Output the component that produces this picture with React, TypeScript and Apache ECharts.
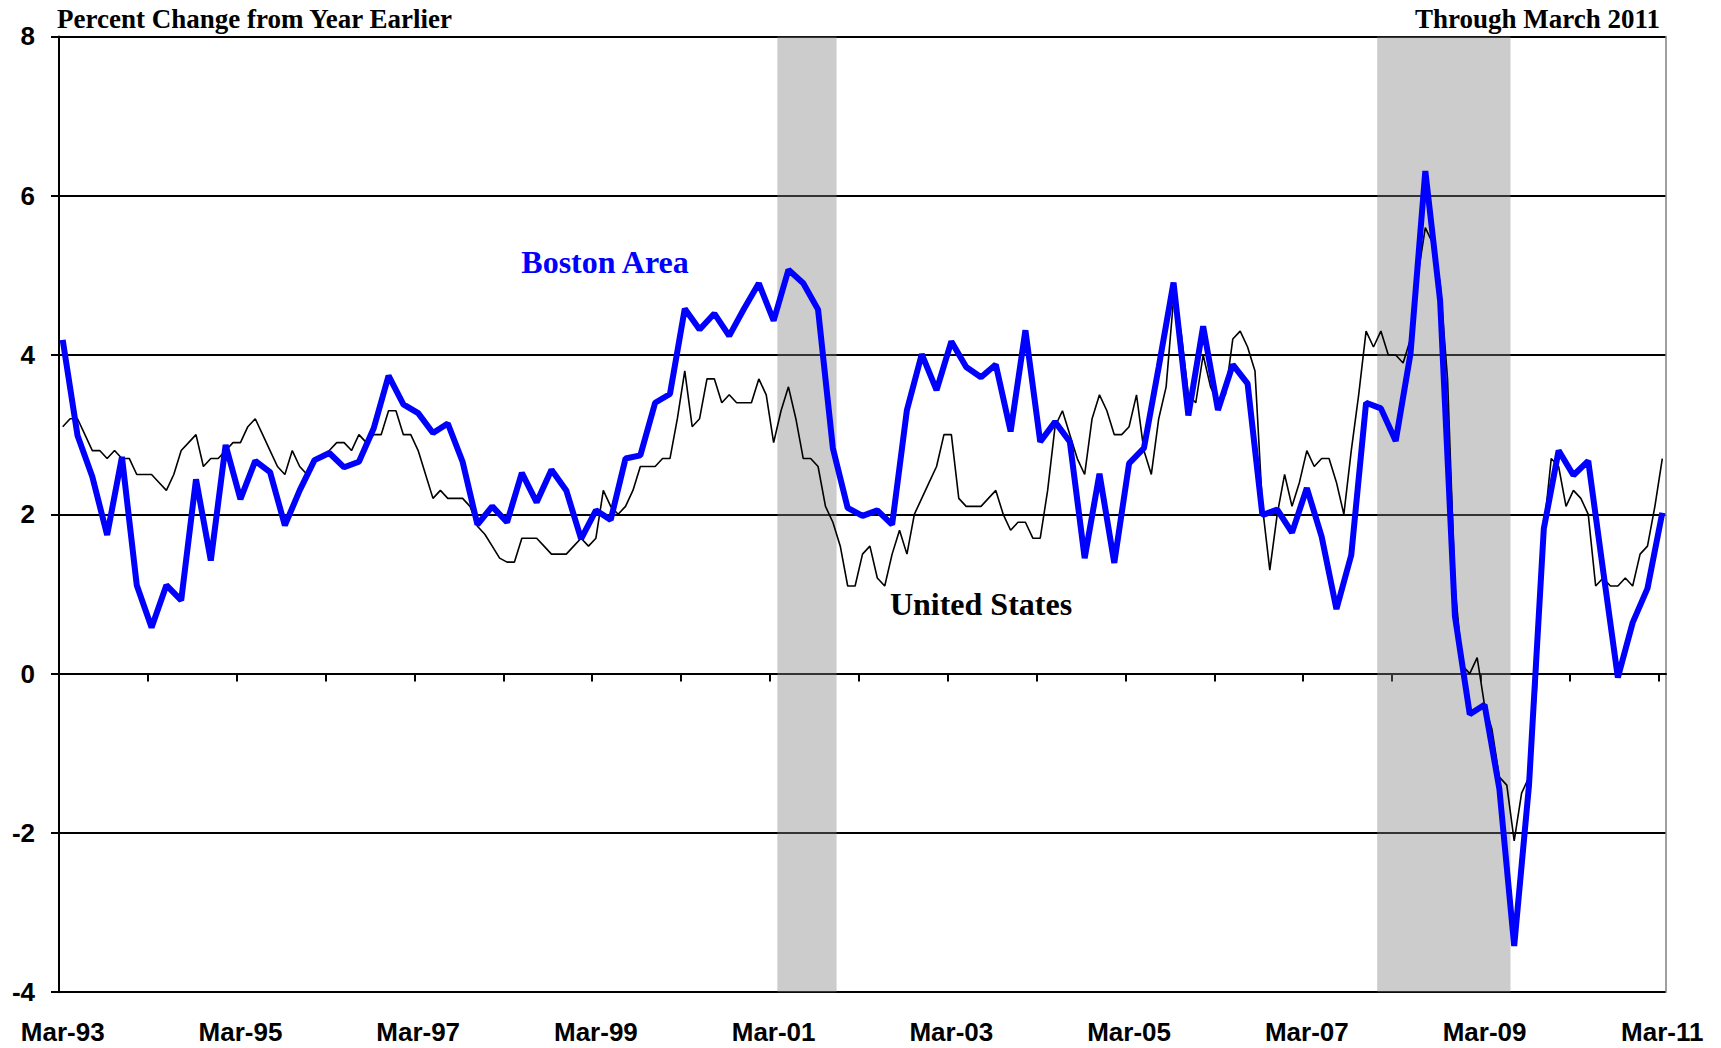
import React, { useEffect, useRef } from "react";
import * as echarts from "echarts";

// Month index 0 = Mar-93, 216 = Mar-11
const xLabels = ["Mar-93", "Mar-95", "Mar-97", "Mar-99", "Mar-01", "Mar-03", "Mar-05", "Mar-07", "Mar-09", "Mar-11"];
const xLabelMonths = [0, 24, 48, 72, 96, 120, 144, 168, 192, 216];
const xTickMonths = [11.5, 23.5, 35.5, 47.5, 59.5, 71.5, 83.5, 95.5, 107.5, 119.5, 131.5, 143.5, 155.5, 167.5, 179.5, 191.5, 203.5, 215.5];

// Recessions: first and last month (index) of shaded period
const recessionFirstMonth = [97, 178];
const recessionLastMonth = [104, 195];

// United States, monthly, Mar-93 .. Mar-11
const usValues = [
  3.1, 3.2, 3.2, 3.0, 2.8, 2.8, 2.7, 2.8, 2.7, 2.7,
  2.5, 2.5, 2.5, 2.4, 2.3, 2.5, 2.8, 2.9, 3.0, 2.6, 2.7, 2.7,
  2.8, 2.9, 2.9, 3.1, 3.2, 3.0, 2.8, 2.6, 2.5, 2.8, 2.6, 2.5,
  2.7, 2.7, 2.8, 2.9, 2.9, 2.8, 3.0, 2.9, 3.0, 3.0, 3.3, 3.3,
  3.0, 3.0, 2.8, 2.5, 2.2, 2.3, 2.2, 2.2, 2.2, 2.1, 1.85, 1.75,
  1.6, 1.45, 1.4, 1.4, 1.7, 1.7, 1.7, 1.6, 1.5, 1.5, 1.5, 1.6,
  1.7, 1.6, 1.7, 2.3, 2.1, 2.0, 2.1, 2.3, 2.6, 2.6, 2.6, 2.7,
  2.7, 3.2, 3.8, 3.1, 3.2, 3.7, 3.7, 3.4, 3.5, 3.4, 3.4, 3.4,
  3.7, 3.5, 2.9, 3.3, 3.6, 3.2, 2.7, 2.7, 2.6, 2.1, 1.9, 1.6,
  1.1, 1.1, 1.5, 1.6, 1.2, 1.1, 1.5, 1.8, 1.5, 2.0, 2.2, 2.4,
  2.6, 3.0, 3.0, 2.2, 2.1, 2.1, 2.1, 2.2, 2.3, 2.0, 1.8, 1.9,
  1.9, 1.7, 1.7, 2.3, 3.1, 3.3, 3.0, 2.7, 2.5, 3.2, 3.5, 3.3,
  3.0, 3.0, 3.1, 3.5, 2.8, 2.5, 3.2, 3.6, 4.7, 4.3, 3.5, 3.4,
  4.0, 3.6, 3.4, 3.5, 4.2, 4.3, 4.1, 3.8, 2.1, 1.3, 2.0, 2.5,
  2.1, 2.4, 2.8, 2.6, 2.7, 2.7, 2.4, 2.0, 2.8, 3.5, 4.3, 4.1,
  4.3, 4.0, 4.0, 3.9, 4.2, 5.0, 5.6, 5.4, 4.9, 3.7, 1.1, 0.1,
  0.0, 0.2, -0.4, -0.7, -1.3, -1.4, -2.1, -1.5, -1.3, -0.2, 1.8, 2.7,
  2.6, 2.1, 2.3, 2.2, 2.0, 1.1, 1.2, 1.1, 1.1, 1.2, 1.1, 1.5,
  1.6, 2.1, 2.7,
];

// Boston Area, bimonthly (Mar, May, Jul, ...), Mar-93 .. Mar-11
const bostonStepMonths = 2;
const bostonValues = [
  4.19, 2.99, 2.47, 1.74, 2.72, 1.11, 0.58, 1.11, 0.92, 2.44,
  1.42, 2.87, 2.19, 2.67, 2.53, 1.86, 2.30, 2.68, 2.77, 2.59,
  2.66, 3.08, 3.74, 3.38, 3.27, 3.02, 3.14, 2.66, 1.87, 2.10,
  1.90, 2.52, 2.15, 2.56, 2.30, 1.69, 2.05, 1.93, 2.70, 2.74,
  3.40, 3.51, 4.58, 4.32, 4.52, 4.24, 4.58, 4.90, 4.43, 5.07,
  4.90, 4.57, 2.83, 2.08, 1.98, 2.05, 1.87, 3.31, 4.01, 3.56,
  4.17, 3.85, 3.72, 3.88, 3.04, 4.31, 2.91, 3.16, 2.91, 1.45,
  2.51, 1.39, 2.64, 2.83, 3.85, 4.91, 3.24, 4.36, 3.31, 3.88,
  3.64, 1.99, 2.06, 1.77, 2.33, 1.72, 0.81, 1.49, 3.40, 3.33,
  2.92, 4.02, 6.31, 4.68, 0.72, -0.51, -0.39, -1.45, -3.42, -1.40,
  1.82, 2.80, 2.49, 2.67, 1.30, -0.05, 0.64, 1.07, 2.02,
];

const yMin = -4;
const yMax = 8;
const yStep = 2;

export default function App() {
  const ref = useRef<HTMLDivElement>(null);

  useEffect(() => {
    if (!ref.current) return;
    const chart = echarts.init(ref.current, undefined, { renderer: "svg" });

    const labelFont = { fontFamily: "Liberation Sans", fontWeight: "bold" as const, fontSize: 26, color: "#000" };
    const serifBold = { fontFamily: "Liberation Serif", fontWeight: "bold" as const, fontSize: 27, color: "#000" };

    const recessionData = recessionFirstMonth.map((s, i) => [s - 0.5, recessionLastMonth[i] + 0.5, yMax]);

    const option: any = {
      animation: false,
      backgroundColor: "#ffffff",
      title: [
        { text: "Percent Change from Year Earlier", left: 57, top: 5, padding: 0, textStyle: serifBold },
        { text: "Through March 2011", right: 61, top: 5, padding: 0, textStyle: serifBold },
      ],
      grid: {
        left: 59,
        right: 55,
        top: 36.4,
        bottom: 55.8,
        show: false,
      },
      xAxis: [
        {
          type: "value",
          min: -0.5,
          max: 216.5,
          position: "bottom",
          axisLine: { show: false, onZero: false },
          axisTick: { show: false },
          splitLine: { show: false },
          axisLabel: {
            ...labelFont,
            customValues: xLabelMonths,
            margin: 27,
            formatter: (v: number) => {
              const i = xLabelMonths.indexOf(Math.round(v));
              return i >= 0 ? xLabels[i] : "";
            },
          },
        },
        {
          type: "value",
          min: -0.5,
          max: 216.5,
          position: "bottom",
          axisLine: { show: true, onZero: true, lineStyle: { color: "#000", width: 2 } },
          axisTick: {
            show: true,
            customValues: xTickMonths,
            length: 8,
            inside: false,
            lineStyle: { color: "#000", width: 2 },
          },
          axisLabel: { show: false },
          splitLine: { show: false },
        },
      ],
      yAxis: [
        {
          type: "value",
          min: yMin,
          max: yMax,
          interval: yStep,
          position: "left",
          axisLine: { show: true, onZero: false, lineStyle: { color: "#000", width: 2 } },
          axisTick: { show: true, length: 8, lineStyle: { color: "#000", width: 2 } },
          axisLabel: { ...labelFont, margin: 24 },
          splitLine: { show: true, lineStyle: { color: "#000", width: 2 } },
        },
        {
          type: "value",
          min: yMin,
          max: yMax,
          interval: yStep,
          position: "right",
          axisLine: { show: true, onZero: false, lineStyle: { color: "#808080", width: 1.5 } },
          axisTick: { show: false },
          axisLabel: { show: false },
          splitLine: { show: false },
        },
      ],
      graphic: [
        {
          type: "text",
          x: 605,
          y: 262,
          silent: true,
          style: {
            text: "Boston Area",
            fill: "#0000FF",
            fontFamily: "Liberation Serif",
            fontWeight: "bold",
            fontSize: 32,
            align: "center",
            verticalAlign: "middle",
          },
        },
        {
          type: "text",
          x: 981,
          y: 604,
          silent: true,
          style: {
            text: "United States",
            fill: "#000",
            fontFamily: "Liberation Serif",
            fontWeight: "bold",
            fontSize: 32,
            align: "center",
            verticalAlign: "middle",
          },
        },
      ],
      series: [
        {
          type: "custom",
          name: "Recession",
          xAxisIndex: 0,
          yAxisIndex: 0,
          silent: true,
          encode: { x: [0, 1], y: 2 },
          renderItem: (params: any, api: any) => {
            const p0 = api.coord([api.value(0), yMax]);
            const p1 = api.coord([api.value(1), yMin]);
            return {
              type: "rect",
              shape: { x: p0[0], y: p0[1], width: p1[0] - p0[0], height: p1[1] - p0[1] },
              style: { fill: "rgba(128,128,128,0.4)" },
            };
          },
          data: recessionData,
        },
        {
          type: "line",
          name: "United States",
          xAxisIndex: 0,
          yAxisIndex: 0,
          data: usValues.map((v, i) => [i, v]),
          symbol: "none",
          lineStyle: { color: "#000", width: 1.6 },
          z: 3,
        },
        {
          type: "line",
          name: "Boston Area",
          xAxisIndex: 0,
          yAxisIndex: 0,
          data: bostonValues.map((v, i) => [i * bostonStepMonths, v]),
          symbol: "none",
          lineStyle: { color: "#0000FF", width: 6 },
          z: 4,
        },
      ],
    };

    chart.setOption(option);
    return () => chart.dispose();
  }, []);

  return (
    <div
      ref={ref}
      style={{ position: "fixed", left: 0, top: 0, width: 1721, height: 1048, background: "#fff" }}
    />
  );
}
